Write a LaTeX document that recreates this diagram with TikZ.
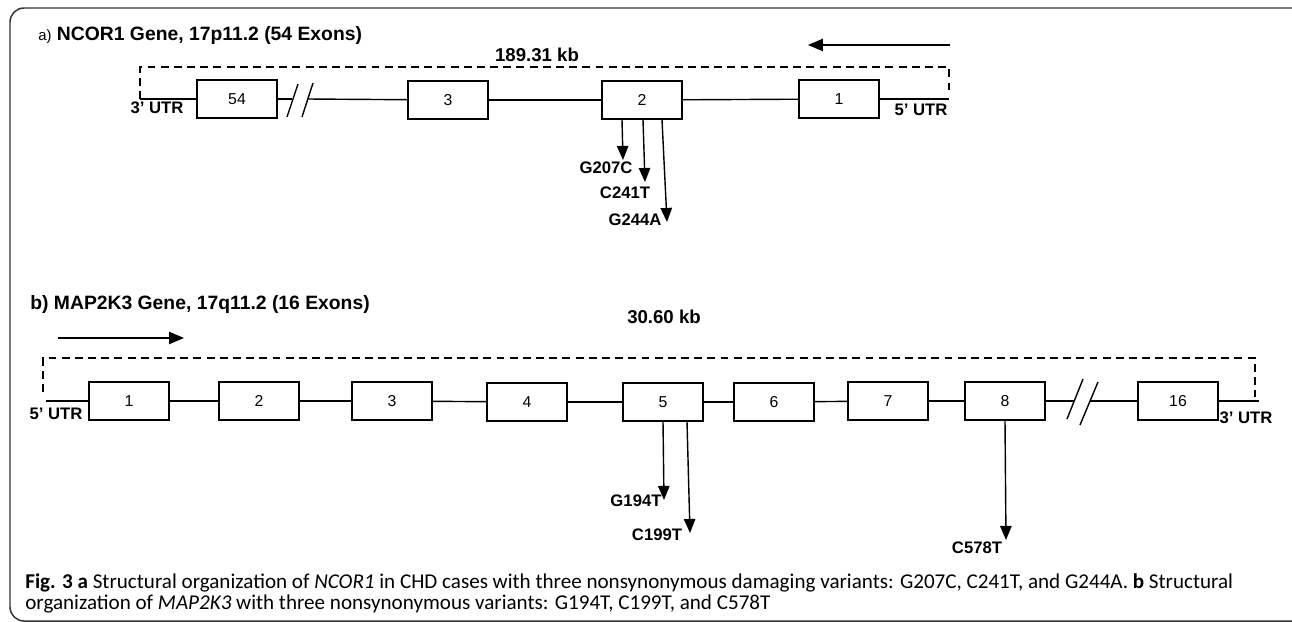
\documentclass[tikz,border=0pt]{standalone}
\usepackage{fontspec}
\setmainfont{Liberation Sans}
\newfontfamily\capfont{Carlito}
\usetikzlibrary{arrows.meta}

\tikzset{
    exon/.style={draw, line width=0.8pt, minimum width=1.6cm, minimum height=0.76cm,
        inner sep=0pt, font=\fontsize{9}{10}\selectfont},
    intron/.style={line width=0.8pt},
    span/.style={line width=0.8pt, dash pattern=on 4.5pt off 3pt},
    brk/.style={line width=0.8pt},
    mut/.style={line width=0.8pt, -{Triangle[length=8pt,width=6.5pt]}},
    sense/.style={line width=0.8pt, -{Triangle[length=8.5pt,width=7pt]}},
    lab/.style={font=\bfseries\fontsize{9.5}{11}\selectfont, inner sep=0pt},
    kb/.style={font=\bfseries\fontsize{10.6}{12}\selectfont, inner sep=0pt},
    ttl/.style={font=\bfseries\fontsize{11}{13}\selectfont, inner sep=0pt, anchor=west},
    capt/.style={font=\capfont\fontsize{12}{14}\selectfont, inner sep=0pt, anchor=base west},
}

\begin{document}
\begin{tikzpicture}[x=0.02cm, y=-0.02cm]
    \useasboundingbox (0,0) rectangle (1292,622);
    \begin{scope}
        \clip (0,0) rectangle (1292,622);
        \draw[line width=0.85pt, rounded corners=8pt, black!80] (10,8) rectangle (1310,621);
    \end{scope}

    % a) NCOR1:
    \node[ttl] (ta) at (38,36) {{\mdseries\fontsize{8.5}{10}\selectfont a)} NCOR1 Gene, 17p11.2 (54 Exons)};
    \coordinate (a3) at (140,99);
    \coordinate (a5) at (949,99);
    \node[exon] (a54) at (237,99) {54};
    \node[exon] (ax3) at (448,100) {3};
    \node[exon] (ax2) at (642,100) {2};
    \node[exon] (ax1) at (839,99) {1};
    \coordinate (ga1) at (292,99);
    \coordinate (ga2) at (307,99);
    \draw[intron] (a3) -- (a54);
    \draw[intron] (a54) -- (ga1);
    \draw[brk] (287,117) -- (298,84);
    \draw[brk] (302,117) -- (313,83);
    \draw[intron] (ga2) -- (ax3);
    \draw[intron] (ax3) -- (ax2);
    \draw[intron] (ax2) -- (ax1);
    \draw[intron] (ax1) -- (a5);
    \draw[span] (a3) -- (140,67) -- (949,67) -- (949,93);
    \node[kb] (kba) at (537,55) {189.31 kb};
    \coordinate (sa1) at (950,45);
    \coordinate (sa2) at (808,45);
    \draw[sense] (sa1) -- (sa2);
    % Varianten:
    \coordinate (ma1) at (623,160);
    \coordinate (ma2) at (645,182);
    \coordinate (ma3) at (667,222);
    \draw[mut] (ax2.south) ++(-20,0) -- (ma1);
    \draw[mut] (ax2.south) ++(1,0) -- (ma2);
    \draw[mut] (ax2.south) ++(20,0) -- (ma3);
    \node[lab] (la1) at (606,168) {G207C};
    \node[lab] (la2) at (625,193) {C241T};
    \node[lab] (la3) at (635,220) {G244A};
    \node[lab] (ua3) at (157,108) {3' UTR};
    \node[lab] (ua5) at (921,110) {5' UTR};

    % b) MAP2K3:
    \node[ttl] (tb) at (30,305) {b) MAP2K3 Gene, 17q11.2 (16 Exons)};
    \coordinate (b5) at (46,401);
    \coordinate (b3) at (1259,401);
    \node[exon] (bx1) at (129,401) {1};
    \node[exon] (bx2) at (259,401) {2};
    \node[exon] (bx3) at (392,401) {3};
    \node[exon] (bx4) at (527,402) {4};
    \node[exon] (bx5) at (663,402) {5};
    \node[exon] (bx6) at (774,402) {6};
    \node[exon] (bx7) at (888,401) {7};
    \node[exon] (bx8) at (1005,401) {8};
    \node[exon] (bx16) at (1178,401) {16};
    \coordinate (gb1) at (1074,401);
    \coordinate (gb2) at (1090,401);
    \draw[intron] (b5) -- (bx1);
    \draw[intron] (bx1) -- (bx2);
    \draw[intron] (bx2) -- (bx3);
    \draw[intron] (bx3) -- (bx4);
    \draw[intron] (bx4) -- (bx5);
    \draw[intron] (bx5) -- (bx6);
    \draw[intron] (bx6) -- (bx7);
    \draw[intron] (bx7) -- (bx8);
    \draw[intron] (bx8) -- (gb1);
    \draw[brk] (1067,419) -- (1083,379);
    \draw[brk] (1080,425) -- (1098,382);
    \draw[intron] (gb2) -- (bx16);
    \draw[intron] (bx16) -- (b3);
    \draw[span] (43,392) -- (43,358) -- (1255,358) -- (1255,397);
    \node[kb] (kbb) at (664,317) {30.60 kb};
    \coordinate (sb1) at (58,338);
    \coordinate (sb2) at (184,338);
    \draw[sense] (sb1) -- (sb2);
    % Varianten:
    \coordinate (mb1) at (664,500);
    \coordinate (mb2) at (690,533);
    \coordinate (mb3) at (1006,540);
    \draw[mut] (bx5.south) ++(0,0) -- (mb1);
    \draw[mut] (bx5.south) ++(24,0) -- (mb2);
    \draw[mut] (bx8.south) -- (mb3);
    \node[lab] (lb1) at (636,501) {G194T};
    \node[lab] (lb2) at (657,535) {C199T};
    \node[lab] (lb3) at (977,548) {C578T};
    \node[lab] (ub5) at (56,414) {5' UTR};
    \node[lab] (ub3) at (1246,418) {3' UTR};

    % Legende:
    \node[capt] (cap1) at (25,588)
        {\textbf{Fig. 3 a} Structural organization of \textit{NCOR1} in CHD cases with three nonsynonymous damaging variants: G207C, C241T, and G244A. \textbf{b} Structural};
    \node[capt] (cap2) at (25,609)
        {organization of \textit{MAP2K3} with three nonsynonymous variants: G194T, C199T, and C578T};
\end{tikzpicture}
\end{document}
